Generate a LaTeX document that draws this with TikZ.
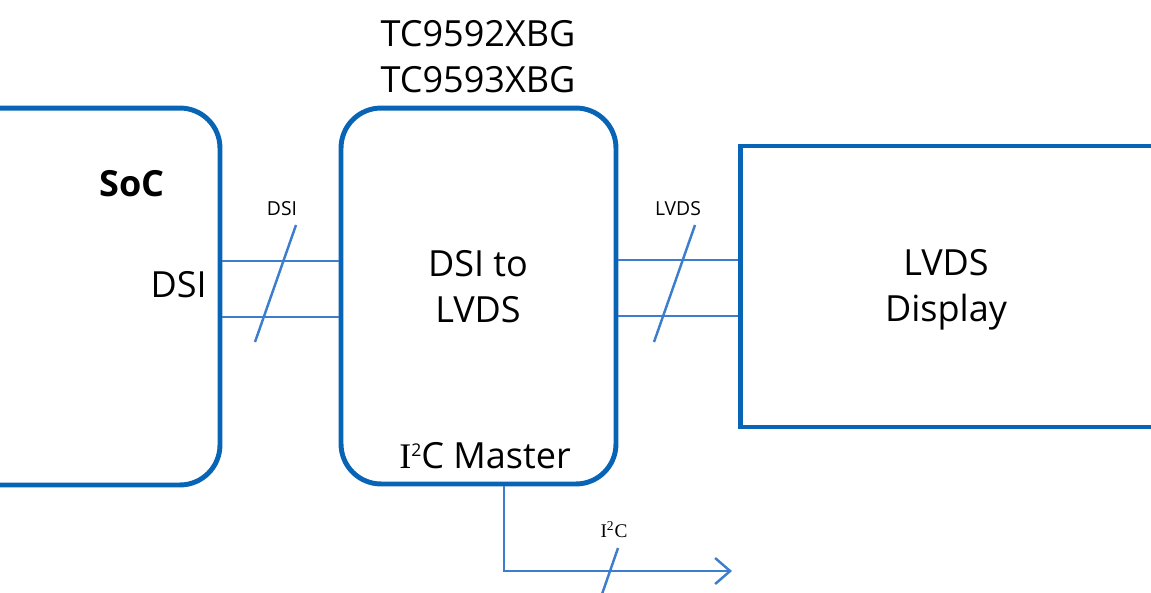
\documentclass[tikz,border=0pt]{standalone}
\usepackage{fontspec}
\setmainfont{Open Sans}
\newfontfamily\serifI{Liberation Serif}
\usetikzlibrary{calc,arrows.meta}
\definecolor{boxblue}{RGB}{8,100,180}
\definecolor{busblue}{RGB}{60,125,205}
\newcommand{\bigtxt}{\fontsize{20.5}{26}\selectfont}
\newcommand{\smalltxt}{\fontsize{11}{13}\selectfont}
\newcommand{\Itwo}{{\serifI I}\raisebox{0.32em}{\fontsize{10}{10}\selectfont 2}}

\begin{document}
\begin{tikzpicture}[x=0.02cm,y=-0.02cm,
  blk/.style={draw=boxblue,line width=2.8pt,inner sep=0pt},
  bus/.style={draw=busblue,line width=1.4pt},
  txt/.style={inner sep=0pt,font=\bigtxt,align=center},
  tag/.style={inner sep=0pt,font=\smalltxt}]
  \useasboundingbox (0,0) rectangle (1151,592);
  \node[blk,rounded corners=0.8cm,minimum width=5.6cm,minimum height=7.54cm] (soc) at (80,296.5) {};
  \node[blk,rounded corners=0.8cm,minimum width=5.5cm,minimum height=7.52cm] (bridge) at (478.5,296) {};
  \node[blk,minimum width=8.4cm,minimum height=5.62cm] (display) at (950,286.5) {};
  \node[txt,anchor=base,font=\bigtxt\bfseries] (soclbl) at (132,196) {SoC};
  \node[txt,anchor=base east] (socdsi) at (207,297) {DSI};
  \node[txt,anchor=north] (chip) at (478,20) {TC9592XBG\\TC9593XBG};
  \node[txt,anchor=north] (conv) at (478,250) {DSI to\\LVDS};
  \node[txt,anchor=base] (master) at (485,468) {\Itwo C Master};
  \node[txt,anchor=north] (panel) at (946,249) {LVDS\\Display};
  \coordinate (dsitop) at (0,261);
  \coordinate (dsibot) at (0,317);
  \coordinate (lvdstop) at (0,260);
  \coordinate (lvdsbot) at (0,316);
  \coordinate (i2cturn) at (504,571);
  \coordinate (i2cend) at (732,571);
  \draw[bus] (soc.east |- dsitop) -- (bridge.west |- dsitop);
  \draw[bus] (soc.east |- dsibot) -- (bridge.west |- dsibot);
  \draw[bus] (bridge.east |- lvdstop) -- (display.west |- lvdstop);
  \draw[bus] (bridge.east |- lvdsbot) -- (display.west |- lvdsbot);
  \draw[bus,-{Straight Barb[length=0.3cm,width=0.52cm]}] (bridge.south -| i2cturn) -- (i2cturn) -- (i2cend);
  \draw[bus] (296,225) -- (255,342);
  \draw[bus] (695,225) -- (654,342);
  \draw[bus] (618,548) -- (601,597);
  \node[tag,anchor=base] (dsitag) at (282,215) {DSI};
  \node[tag,anchor=base] (lvdstag) at (678,215) {LVDS};
  \node[tag,anchor=base,font=\smalltxt\serifI] (i2ctag) at (614,537) {I\textsuperscript{2}C};
\end{tikzpicture}
\end{document}
